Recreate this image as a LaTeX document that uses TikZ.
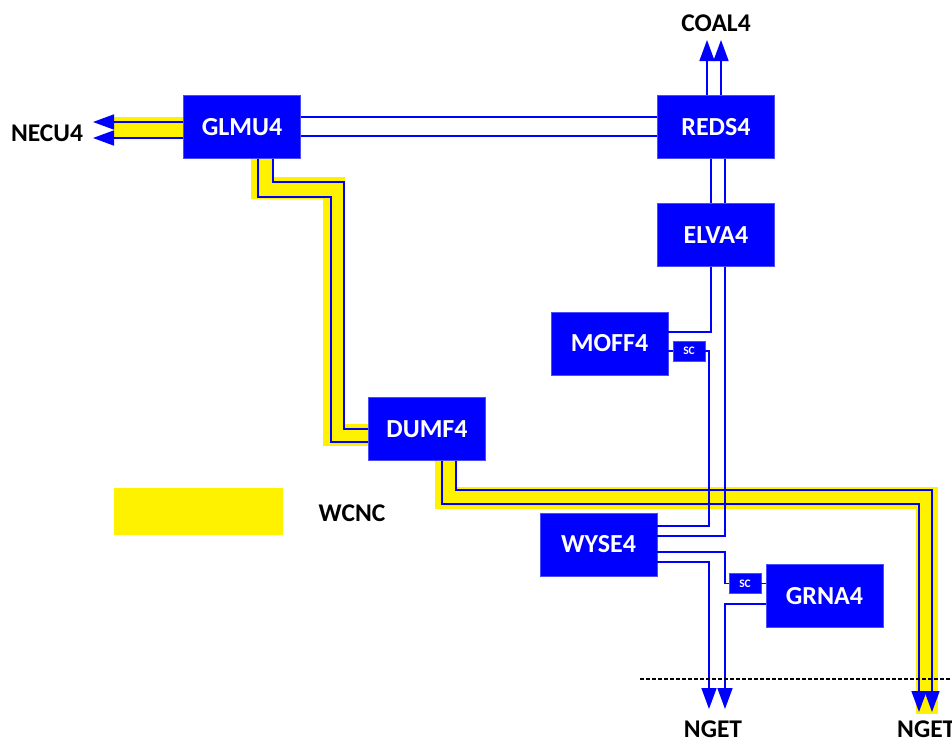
\documentclass[tikz,border=0pt]{standalone}
\usepackage{fontspec}
\setmainfont{Carlito}
\usetikzlibrary{arrows.meta,backgrounds}
\begin{document}
\begin{tikzpicture}[x=1pt,y=-1pt,
  unit/.style={fill=blue,draw=blue!70!white,line width=0.6pt,text=white,minimum width=117pt,minimum height=63pt,inner sep=0pt,font=\bfseries\fontsize{26}{30}\selectfont},
  scbox/.style={fill=blue,draw=blue!70!white,line width=0.6pt,text=white,minimum width=32pt,minimum height=20pt,inner sep=0pt,font=\bfseries\fontsize{11.5}{12}\selectfont},
  lbl/.style={text=black,inner sep=0pt,font=\bfseries\fontsize{25.5}{30}\selectfont},
  conn/.style={draw=blue,line width=1.6pt},
  arr/.style={-{Triangle[length=21pt,width=15pt]}},
  hl/.style={draw=yellow,line width=22pt,line join=miter},
  sep/.style={draw=black,line width=1.3pt,dash pattern=on 3.5pt off 2.5pt}]
\useasboundingbox (0,0) rectangle (952,742);

% units
\node[unit] (GLMU4) at (242,127) {GLMU4};
\node[unit] (REDS4) at (716,127) {REDS4};
\node[unit] (ELVA4) at (716,235) {ELVA4};
\node[unit] (MOFF4) at (609.5,343.5) {MOFF4};
\node[scbox] (SC1) at (689,351) {SC};
\node[unit] (DUMF4) at (427,429) {DUMF4};
\node[unit] (WYSE4) at (598.5,544.5) {WYSE4};
\node[scbox] (SC2) at (745,583.5) {SC};
\node[unit] (GRNA4) at (824.5,596) {GRNA4};

% labels
\node[lbl] (NECU4) at (47,133) {NECU4};
\node[lbl] (COAL4) at (716,23) {COAL4};
\node[lbl] (NGETa) at (713,729) {NGET};
\node[lbl,anchor=west] (NGETb) at (897,729) {NGET};
\node[lbl] (WCNC) at (352,513) {WCNC};

% free ends
\coordinate (necuA) at (93,122);
\coordinate (necuB) at (93,138);
\coordinate (coalA) at (707,40);
\coordinate (coalB) at (721,40);
\coordinate (ngetA) at (709,709);
\coordinate (ngetB) at (725,709);
\coordinate (ngetC) at (919,712);
\coordinate (ngetD) at (932,712);
\coordinate (sepL) at (640,679);
\coordinate (sepR) at (952,679);

% highlights
\begin{scope}[on background layer]
  \fill[white] (0,0) rectangle (952,742);
  \fill[yellow] (114,488) rectangle (283,535);
  \draw[hl] (GLMU4.west |- 0,128) -- (114,128);
  \draw[hl] (GLMU4.south -| 261.5,0) -- (261.5,188) -- (334,188) -- (334,435) -- (DUMF4.west |- 0,435);
  \draw[hl] (DUMF4.south -| 445.5,0) -- (445.5,497.5) -- (927,497.5) -- (927,714);
\end{scope}

% connectors
\draw[conn] (GLMU4.east |- 0,117) -- (REDS4.west |- 0,117);
\draw[conn] (GLMU4.east |- 0,136) -- (REDS4.west |- 0,136);
\draw[conn,arr] (GLMU4.west |- necuA) -- (necuA);
\draw[conn,arr] (GLMU4.west |- necuB) -- (necuB);
\draw[conn,arr] (REDS4.north -| coalA) -- (coalA);
\draw[conn,arr] (REDS4.north -| coalB) -- (coalB);
\draw[conn] (REDS4.south -| 711,0) -- (ELVA4.north -| 711,0);
\draw[conn] (REDS4.south -| 725,0) -- (ELVA4.north -| 725,0);
\draw[conn] (ELVA4.south -| 711,0) -- (711,332) -- (MOFF4.east |- 0,332);
\draw[conn] (ELVA4.south -| 725,0) -- (725,536) -- (WYSE4.east |- 0,536);
\draw[conn] (MOFF4.east |- SC1.west) -- (SC1.west);
\draw[conn] (SC1.east) -- (709,351) -- (709,526) -- (WYSE4.east |- 0,526);
\draw[conn] (GLMU4.south -| 258,0) -- (258,197) -- (331,197) -- (331,442) -- (DUMF4.west |- 0,442);
\draw[conn] (GLMU4.south -| 273,0) -- (273,182) -- (344,182) -- (344,429) -- (DUMF4.west |- 0,429);
\draw[conn,arr] (DUMF4.south -| 442,0) -- (442,504) -- (919,504) -- (ngetC);
\draw[conn,arr] (DUMF4.south -| 456,0) -- (456,490) -- (932,490) -- (ngetD);
\draw[conn] (WYSE4.east |- 0,552) -- (725,552) -- (725,583.5) -- (SC2.west);
\draw[conn] (SC2.east) -- (GRNA4.west |- SC2.east);
\draw[conn,arr] (WYSE4.east |- 0,562) -- (709,562) -- (ngetA);
\draw[conn,arr] (GRNA4.west |- 0,604) -- (725,604) -- (ngetB);
\draw[sep] (sepL) -- (sepR);
\end{tikzpicture}
\end{document}
